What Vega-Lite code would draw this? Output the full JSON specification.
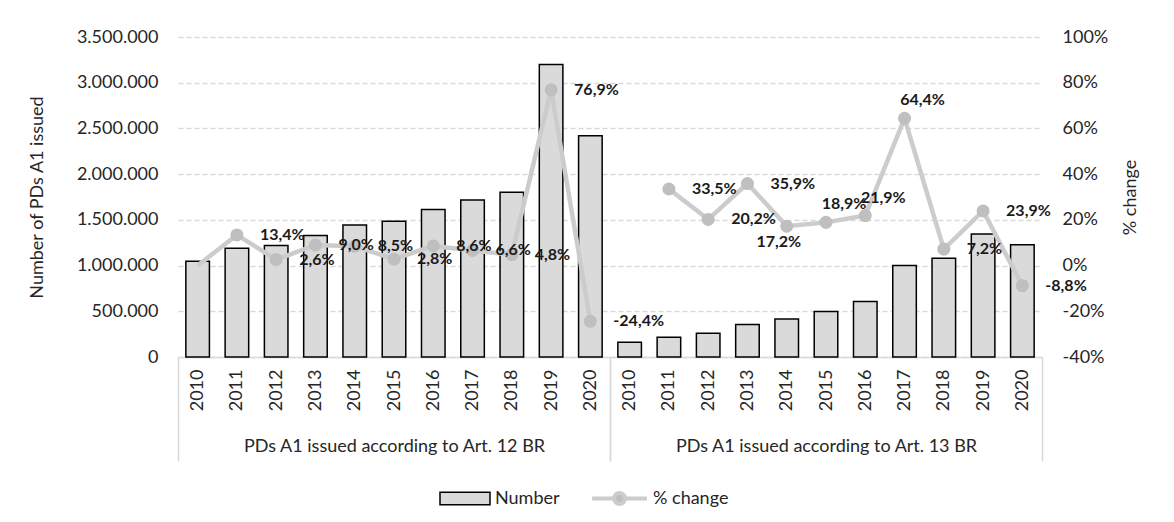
{
  "$schema": "https://vega.github.io/schema/vega-lite/v6.json",
  "background": "white",
  "padding": {"left": 28, "top": 28, "right": 5, "bottom": 5},
  "bounds": "flush",
  "config": {
    "font": "Lato",
    "locale": {"number": {"decimal": ",", "thousands": ".", "grouping": [3], "currency": ["", " €"], "minus": "-"}},
    "view": {"stroke": null},
    "axis": {"labelFont": "Lato", "labelFontSize": 18, "labelColor": "#262626", "titleFont": "Lato", "titleFontSize": 18, "titleFontWeight": "normal", "titleColor": "#262626"},
    "legend": {"labelFont": "Lato", "labelFontSize": 18, "labelColor": "#262626", "offset": 7, "layout": {"bottom": {"anchor": "middle", "direction": "horizontal", "margin": 30, "center": true}}}
  },
  "data": {"values": [
    {"group": "Art. 12", "year": "2010", "number": 1047000, "pct": 0},
    {"group": "Art. 12", "year": "2011", "number": 1189000, "pct": 0.134},
    {"group": "Art. 12", "year": "2012", "number": 1219000, "pct": 0.026},
    {"group": "Art. 12", "year": "2013", "number": 1329000, "pct": 0.090},
    {"group": "Art. 12", "year": "2014", "number": 1443000, "pct": 0.085},
    {"group": "Art. 12", "year": "2015", "number": 1485000, "pct": 0.028},
    {"group": "Art. 12", "year": "2016", "number": 1612000, "pct": 0.086},
    {"group": "Art. 12", "year": "2017", "number": 1718000, "pct": 0.066},
    {"group": "Art. 12", "year": "2018", "number": 1801000, "pct": 0.048},
    {"group": "Art. 12", "year": "2019", "number": 3200000, "pct": 0.769},
    {"group": "Art. 12", "year": "2020", "number": 2421000, "pct": -0.244},
    {"group": "Art. 13", "year": "2010", "number": 161000, "pct": null},
    {"group": "Art. 13", "year": "2011", "number": 215000, "pct": 0.335},
    {"group": "Art. 13", "year": "2012", "number": 259000, "pct": 0.202},
    {"group": "Art. 13", "year": "2013", "number": 356000, "pct": 0.359},
    {"group": "Art. 13", "year": "2014", "number": 416000, "pct": 0.172},
    {"group": "Art. 13", "year": "2015", "number": 497000, "pct": 0.189},
    {"group": "Art. 13", "year": "2016", "number": 606000, "pct": 0.219},
    {"group": "Art. 13", "year": "2017", "number": 1000000, "pct": 0.644},
    {"group": "Art. 13", "year": "2018", "number": 1080000, "pct": 0.072},
    {"group": "Art. 13", "year": "2019", "number": 1345000, "pct": 0.239},
    {"group": "Art. 13", "year": "2020", "number": 1228000, "pct": -0.088}
  ]},
  "spacing": 0,
  "resolve": {"scale": {"x": "independent", "y": "independent"}},
  "hconcat": [
    {
      "width": 432,
      "height": 320,
      "transform": [{"filter": "datum.group == 'Art. 12'"}],
      "encoding": {
        "x": {"field": "year", "type": "ordinal", "scale": {"paddingInner": 0, "paddingOuter": 0},
          "axis": {"title": "PDs A1 issued according to Art. 12 BR", "titleY": 80, "titleBaseline": "top", "labelAngle": -90, "labelPadding": -92,
            "domainColor": "#d9d9d9", "domainWidth": 1.5, "tickBand": "extent", "tickSize": 104, "tickColor": "#d9d9d9", "tickWidth": 1.5,
            "tickOpacity": {"condition": {"test": "datum.value == '2020' || datum.extra", "value": 1}, "value": 0}}}
      },
      "layer": [
        {
          "mark": {"type": "bar", "width": {"band": 0.6}, "stroke": "black", "strokeWidth": 1.5},
          "encoding": {
            "y": {"field": "number", "type": "quantitative", "scale": {"domain": [0, 3500000]},
              "axis": {"values": [0, 500000, 1000000, 1500000, 2000000, 2500000, 3000000, 3500000], "format": ",.0f", "title": "Number of PDs A1 issued",
                "grid": true, "gridDash": [5, 3], "gridColor": "#d9d9d9", "gridWidth": 1.5, "domain": false, "ticks": false, "labelPadding": 20, "titlePadding": 30}},
            "fill": {"datum": "Number", "type": "nominal", "scale": {"domain": ["Number"], "range": ["#dadada"]},
              "legend": {"title": null, "orient": "bottom", "symbolType": "M-1,-0.25H1V0.25H-1Z", "symbolSize": 2500, "symbolStrokeColor": "black", "symbolStrokeWidth": 1.5, "labelOffset": 4}}
          }
        },
        {
          "layer": [
            {
              "mark": {"type": "line", "strokeWidth": 4.5},
              "encoding": {
                "y": {"field": "pct", "type": "quantitative", "scale": {"domain": [-0.4, 1]}, "axis": null},
                "stroke": {"datum": "% change", "type": "nominal", "scale": {"domain": ["% change"], "range": ["#cccccc"]},
                  "legend": {"title": null, "orient": "bottom", "symbolType": "M-1,0H-0.2M0.2,0H1M-0.2,0A0.2,0.2,0,1,0,0.2,0A0.2,0.2,0,1,0,-0.2,0", "symbolSize": 3000, "symbolStrokeWidth": 4, "labelOffset": 4,
                    "encode": {"symbols": {"update": {"fill": {"value": "#bfbfbf"}, "stroke": {"value": "#cccccc"}}}}}}
              }
            },
            {
              "transform": [{"filter": "datum.year != '2010'"}],
              "mark": {"type": "point", "filled": true, "size": 170, "color": "#bfbfbf", "opacity": 1},
              "encoding": {"y": {"field": "pct", "type": "quantitative"}}
            },
            {
              "transform": [{"filter": "datum.year != '2010'"}],
              "mark": {"type": "text", "align": "left", "baseline": "middle", "dx": 23, "fontWeight": "bold", "fontSize": 16, "color": "#1a1a1a"},
              "encoding": {"y": {"field": "pct", "type": "quantitative"}, "text": {"field": "pct", "type": "quantitative", "format": ".1%"}}
            }
          ]
        }
      ],
      "resolve": {"scale": {"y": "independent"}}
    },
    {
      "width": 432,
      "height": 320,
      "transform": [{"filter": "datum.group == 'Art. 13'"}],
      "encoding": {
        "x": {"field": "year", "type": "ordinal", "scale": {"paddingInner": 0, "paddingOuter": 0},
          "axis": {"title": "PDs A1 issued according to Art. 13 BR", "titleY": 80, "titleBaseline": "top", "labelAngle": -90, "labelPadding": -92,
            "domainColor": "#d9d9d9", "domainWidth": 1.5, "tickBand": "extent", "tickSize": 104, "tickColor": "#d9d9d9", "tickWidth": 1.5,
            "tickOpacity": {"condition": {"test": "datum.value == '2020' || datum.extra", "value": 1}, "value": 0}}}
      },
      "layer": [
        {
          "mark": {"type": "bar", "width": {"band": 0.6}, "stroke": "black", "strokeWidth": 1.5},
          "encoding": {
            "y": {"field": "number", "type": "quantitative", "scale": {"domain": [0, 3500000]},
              "axis": {"values": [0, 500000, 1000000, 1500000, 2000000, 2500000, 3000000, 3500000], "labels": false, "title": null,
                "grid": true, "gridDash": [5, 3], "gridColor": "#d9d9d9", "gridWidth": 1.5, "domain": false, "ticks": false}},
            "fill": {"datum": "Number", "type": "nominal", "scale": {"domain": ["Number"], "range": ["#dadada"]}, "legend": null}
          }
        },
        {
          "layer": [
            {
              "mark": {"type": "line", "strokeWidth": 4.5},
              "encoding": {
                "y": {"field": "pct", "type": "quantitative", "scale": {"domain": [-0.4, 1]},
                  "axis": {"orient": "right", "values": [-0.4, -0.2, 0, 0.2, 0.4, 0.6, 0.8, 1], "format": ".0%", "title": "% change", "titleAngle": 270, "grid": false, "domain": false, "ticks": false, "labelPadding": 20, "titlePadding": 32}},
                "stroke": {"datum": "% change", "type": "nominal", "scale": {"domain": ["% change"], "range": ["#cccccc"]}, "legend": null}
              }
            },
            {
              "transform": [{"filter": "datum.pct != null"}],
              "mark": {"type": "point", "filled": true, "size": 170, "color": "#bfbfbf", "opacity": 1},
              "encoding": {"y": {"field": "pct", "type": "quantitative"}}
            },
            {
              "transform": [{"filter": "datum.pct != null && (datum.year < '2014' || datum.year > '2017')"}],
              "mark": {"type": "text", "align": "left", "baseline": "middle", "dx": 23, "fontWeight": "bold", "fontSize": 16, "color": "#1a1a1a"},
              "encoding": {"y": {"field": "pct", "type": "quantitative"}, "text": {"field": "pct", "type": "quantitative", "format": ".1%"}}
            },
            {
              "transform": [{"filter": "datum.year >= '2015' && datum.year <= '2017'"}],
              "mark": {"type": "text", "align": "center", "baseline": "middle", "dx": 18, "dy": -18, "fontWeight": "bold", "fontSize": 16, "color": "#1a1a1a"},
              "encoding": {"y": {"field": "pct", "type": "quantitative"}, "text": {"field": "pct", "type": "quantitative", "format": ".1%"}}
            },
            {
              "transform": [{"filter": "datum.year == '2014'"}],
              "mark": {"type": "text", "align": "center", "baseline": "middle", "dx": -8, "dy": 16, "fontWeight": "bold", "fontSize": 16, "color": "#1a1a1a"},
              "encoding": {"y": {"field": "pct", "type": "quantitative"}, "text": {"field": "pct", "type": "quantitative", "format": ".1%"}}
            }
          ]
        }
      ],
      "resolve": {"scale": {"y": "independent"}}
    }
  ]
}
